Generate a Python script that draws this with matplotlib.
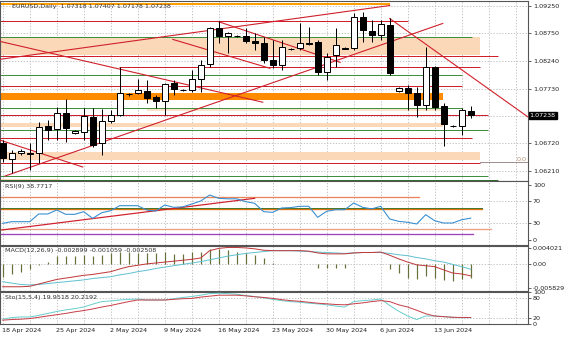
import numpy as np
import matplotlib
matplotlib.use("Agg")
import matplotlib.pyplot as plt
from matplotlib.transforms import blended_transform_factory

plt.rcParams['font.family'] = ['DejaVu Sans']
FS = 4.6
PX = 0.72  # one pixel in points at dpi 100

# ---- price data (daily bars, Sunday bars included) ----
opens = [1.06718, 1.06423, 1.06534, 1.06543, 1.06534, 1.07032, 1.06977, 1.07273, 1.06903, 1.06922,
         1.07199, 1.06718, 1.07125, 1.07236, 1.07624, 1.07642, 1.07679, 1.07568, 1.07494, 1.07827,
         1.07710, 1.07698, 1.07901, 1.08178, 1.08843, 1.08696, 1.08710, 1.08696, 1.08603, 1.08566,
         1.08252, 1.08160, 1.08460, 1.08474, 1.08570, 1.08585, 1.08030, 1.08345, 1.08480, 1.08474,
         1.09047, 1.08788, 1.08714, 1.08899, 1.07679, 1.07735, 1.07642, 1.07420, 1.08123, 1.07402,
         1.07040, 1.07032, 1.07318]
highs = [1.06774, 1.06589, 1.06610, 1.06718, 1.07106, 1.07143, 1.07384, 1.07531, 1.06960, 1.07365,
         1.07365, 1.07347, 1.07328, 1.08123, 1.07650, 1.07901, 1.07883, 1.07605, 1.07827, 1.07883,
         1.07730, 1.08067, 1.08252, 1.08862, 1.08973, 1.08770, 1.08730, 1.08843, 1.08751, 1.08677,
         1.08622, 1.08622, 1.08490, 1.08936, 1.08862, 1.08622, 1.08382, 1.08843, 1.08500, 1.09121,
         1.09139, 1.08991, 1.08991, 1.09028, 1.07760, 1.07790, 1.07753, 1.08492, 1.08141, 1.07457,
         1.07060, 1.07365, 1.07407]
lows = [1.06367, 1.06164, 1.06500, 1.06219, 1.06349, 1.06774, 1.06774, 1.06737, 1.06885, 1.06774,
        1.06644, 1.06497, 1.07088, 1.07218, 1.07600, 1.07624, 1.07457, 1.07365, 1.07236, 1.07605,
        1.07680, 1.07661, 1.07661, 1.08123, 1.08566, 1.08382, 1.08690, 1.08566, 1.08437, 1.08197,
        1.08104, 1.08067, 1.08440, 1.08437, 1.08530, 1.07975, 1.07883, 1.08123, 1.08460, 1.08437,
        1.08585, 1.08585, 1.08622, 1.07975, 1.07660, 1.07328, 1.07199, 1.07328, 1.07328, 1.06663,
        1.07020, 1.06866, 1.07178]
closes = [1.06441, 1.06534, 1.06570, 1.06515, 1.07014, 1.06959, 1.07273, 1.06996, 1.06940, 1.07217,
          1.06681, 1.07125, 1.07236, 1.07642, 1.07620, 1.07698, 1.07550, 1.07494, 1.07809, 1.07716,
          1.07700, 1.07901, 1.08160, 1.08843, 1.08696, 1.08751, 1.08700, 1.08603, 1.08566, 1.08252,
          1.08160, 1.08492, 1.08470, 1.08566, 1.08560, 1.08030, 1.08308, 1.08529, 1.08470, 1.09047,
          1.08807, 1.08714, 1.08917, 1.08012, 1.07735, 1.07642, 1.07420, 1.08123, 1.07383, 1.07069,
          1.07040, 1.07328, 1.07238]

date_pos = [0, 6, 12, 18, 24, 30, 36, 42, 48]
date_labels = ["18 Apr 2024", "25 Apr 2024", "2 May 2024", "9 May 2024", "16 May 2024",
               "23 May 2024", "30 May 2024", "6 Jun 2024", "13 Jun 2024"]

price_ticks = [1.09250, 1.08750, 1.08240, 1.07730, 1.06720, 1.06210]
price_labels = ["1.09250", "1.08750", "1.08240", "1.07730", "1.06720", "1.06210"]
last_price = 1.07238

# horizontal levels drawn on the price chart: price, start bar, end bar, colour
lvl_price = [1.09290, 1.08973, 1.08683, 1.08326, 1.08123, 1.07975, 1.07772, 1.07365,
             1.07245, 1.06959, 1.06811, 1.06349, 1.06108, 1.06030]
lvl_start = [-1, -1, -1, -1, 12.9, -1, -1, -1, -1, -1, -1, -1, -1, -1]
lvl_end = [43.0, 45.0, 52.1, 55.0, 53.0, 51.0, 51.0, 51.0, 53.9, 53.9, 52.1, 53.0, 53.9, 55.0]
lvl_color = ["#ffa000", "#d01f2a", "#3f8f3f", "#d01f2a", "#d01f2a", "#3f8f3f", "#d01f2a",
             "#3f8f3f", "#d01f2a", "#3f8f3f", "#d01f2a", "#d01f2a", "#3f8f3f", "#2f6f2f"]
lvl_width = [2, 1, 1, 1, 1, 1, 1, 1, 1, 1, 1, 1, 1, 1]

# shaded zones: low, high, start bar, end bar, colour
zone_lo = [1.08345, 1.07513, 1.07310, 1.07010, 1.06404, 1.06016]
zone_hi = [1.08677, 1.07642, 1.07360, 1.07084, 1.06552, 1.06060]
zone_start = [-1, -1, 16.0, -1, -1, -1]
zone_end = [53.0, 48.9, 48.9, 48.9, 53.0, 6.4]
zone_color = ["#fbd8b8", "#ff8c00", "#fde3cc", "#fbd8b8", "#fbd8b8", "#fbd8b8"]

# trend lines: (bar, price) -> (bar, price)
trend_x0 = [-0.3, -0.3, 0.26, -0.3, 23.9, 18.9, 43.0]
trend_y0 = [1.08271, 1.08603, 1.06108, 1.06774, 1.08973, 1.08640, 1.09028]
trend_x1 = [43.0, 28.9, 48.9, 8.9, 37.5, 29.7, 58.4]
trend_y1 = [1.09268, 1.07476, 1.08936, 1.06275, 1.08215, 1.08104, 1.07199]

fib_price = 1.06367
fib_start, fib_end = 53.0, 58.4

# ---- indicators ----
rsi = [29.4, 32.4, 32.4, 32.4, 46.4, 46.4, 53.6, 45.8, 45.8, 50.6, 38.5, 48.7, 52.4, 61.5, 61.5,
       61.5, 53.6, 51.8, 62.7, 58.5, 59.4, 64.5, 70.0, 80.9, 74.9, 74.0, 74.0, 68.8, 65.8, 50.6,
       49.4, 57.3, 58.0, 60.4, 60.4, 40.4, 51.3, 54.2, 54.2, 66.4, 58.5, 55.6, 60.4, 37.3, 33.0,
       31.3, 28.2, 45.1, 34.2, 30.0, 30.0, 36.0, 38.77]
rsi_lvl = [77.8, 55.5, 18.5, 9.5]
rsi_lvl_end = [46.3, 53.3, 54.3, 52.3]
rsi_lvl_color = ["#e8845a", "#e07010", "#e8a080", "#a040c0"]
rsi_trend_x = [-0.1, 28.0]
rsi_trend_y = [17.3, 74.9]

macd_hist = [-0.00269, -0.00217, -0.00160, -0.00107, -0.00010, 0.00059, 0.00184, 0.00184, 0.00184,
             0.00206, 0.00184, 0.00206, 0.00243, 0.00278, 0.00278, 0.00256, 0.00243, 0.00256,
             0.00265, 0.00228, 0.00228, 0.00265, 0.00278, 0.00337, 0.00337, 0.00315, 0.00278,
             0.00256, 0.00206, 0.00134, 0.00020, 0.00010, 0.00005, 0.0, 0.0, -0.00085, -0.00085,
             -0.00072, -0.00085, 0.0, 0.00010, 0.0, 0.00010, -0.00107, -0.00195, -0.00291,
             -0.00326, -0.00254, -0.00291, -0.00341, -0.00357, -0.00326, -0.002899]
macd_red = [-0.0049, -0.0049, -0.0049, -0.0048, -0.0043, -0.0038, -0.0033, -0.0030, -0.0027,
            -0.0024, -0.0022, -0.0019, -0.0016, -0.0010, -0.0005, -0.0002, 0.0001, 0.0003, 0.0005,
            0.0007, 0.0009, 0.0011, 0.0014, 0.0030, 0.0035, 0.0037, 0.0037, 0.0036, 0.0034, 0.0031,
            0.0030, 0.0030, 0.0030, 0.0030, 0.0029, 0.0025, 0.0023, 0.0023, 0.0023, 0.0025, 0.0026,
            0.0026, 0.0027, 0.0020, 0.0012, 0.0005, -0.0001, -0.0003, -0.0005, -0.0012, -0.0019,
            -0.0021, -0.002508]
macd_cyan = [-0.0038, -0.0041, -0.0044, -0.0045, -0.0044, -0.0042, -0.0040, -0.0038, -0.0036,
             -0.0034, -0.0031, -0.0029, -0.0027, -0.0023, -0.0020, -0.0016, -0.0013, -0.0009,
             -0.0006, -0.0003, 0.0000, 0.0003, 0.0006, 0.0010, 0.0014, 0.0018, 0.0021, 0.0024,
             0.0026, 0.0028, 0.0030, 0.0030, 0.0030, 0.0029, 0.0028, 0.0027, 0.0026, 0.0025, 0.0024,
             0.0025, 0.0026, 0.0026, 0.0026, 0.0024, 0.0021, 0.0019, 0.0015, 0.0012, 0.0008, 0.0005,
             0.0000, -0.0005, -0.001059]

sto_main = [15, 20, 22, 22, 27, 33, 39, 44, 48, 53, 62, 70, 72, 75, 77, 78, 75, 75, 75, 79, 83, 86,
            90, 95, 96, 95, 93, 89, 86, 82, 77, 73, 70, 68, 65, 63, 60, 56, 53, 70, 73, 75, 78, 58,
            40, 25, 14, 25, 25, 23, 21, 19.5, 19.95]
sto_sig = [12, 14, 15, 17, 21, 25, 29, 33, 38, 42, 47, 53, 58, 64, 70, 75, 75, 75, 75, 77, 79, 80,
           84, 87, 90, 90, 90, 88, 85, 83, 80, 76, 73, 71, 68, 65, 63, 61, 60, 63, 66, 70, 73, 70,
           60, 53, 43, 32, 25, 23, 21, 20.5, 20.22]

# ---- figure ----
W, H = 564, 338
fig = plt.figure(figsize=(W / 100, H / 100), dpi=100)
fig.patch.set_facecolor("white")


def panel(y0, y1):
    ax = fig.add_axes([0, 1 - y1 / H, 528 / W, (y1 - y0) / H])
    ax.set_xlim(-0.3, 58.37)
    ax.set_xticks([])
    ax.yaxis.tick_right()
    ax.tick_params(axis='y', length=2, width=0.5, pad=1.5, labelsize=FS, colors="#222222")
    for s in ax.spines.values():
        s.set_color("#555555")
        s.set_linewidth(0.8)
    for b in range(0, 60, 3):
        ax.axvline(b, color="#b8b8b8", lw=0.6, ls=(0, (1.5, 2)), zorder=0)
    return ax


grid = dict(color="#b8b8b8", lw=0.6, ls=(0, (1.5, 2)), zorder=0)
x = np.arange(len(closes))

# main price panel
ax = panel(0.5, 181)
ax.set_ylim(1.06016, 1.09361)
ax.set_yticks(price_ticks)
ax.set_yticklabels(price_labels)
for p in price_ticks + [1.07228]:
    ax.axhline(p, **grid)

for lo, hi, s, e, c in zip(zone_lo, zone_hi, zone_start, zone_end, zone_color):
    ax.fill_between([s, e], lo, hi, color=c, lw=0, zorder=1)
for p, s, e, c, w in zip(lvl_price, lvl_start, lvl_end, lvl_color, lvl_width):
    ax.plot([s, e], [p, p], color=c, lw=w * PX, zorder=2, solid_capstyle='butt')
for a, b, c, d in zip(trend_x0, trend_y0, trend_x1, trend_y1):
    ax.plot([a, c], [b, d], color="#d01f2a", lw=1.1 * PX, zorder=3)
ax.plot([fib_start, fib_end], [fib_price, fib_price], color="#a09090", lw=PX, zorder=2)
ax.text(fib_end - 0.2, fib_price + 0.0001, "0.0", fontsize=FS, color="#b09070",
        ha='right', va='bottom')

o = np.array(opens)
c = np.array(closes)
ax.vlines(x, lows, highs, color="black", lw=PX, zorder=4)
body_lo = np.minimum(o, c)
body_h = np.maximum(np.abs(c - o), 0.00004)
fill = ["white" if cc >= oo else "black" for oo, cc in zip(o, c)]
ax.bar(x, body_h, bottom=body_lo, width=0.66, color=fill, edgecolor="black",
       linewidth=PX, zorder=5)

ax.text(1.0, 1.09245, "EURUSD,Daily  1.07318 1.07407 1.07178 1.07238", fontsize=FS,
        color="#333333", va='center', ha='left', zorder=6)
ax.text(1.003, last_price, "1.07238", transform=blended_transform_factory(ax.transAxes, ax.transData),
        fontsize=FS, color="white", va='center', ha='left', zorder=7, clip_on=False,
        bbox=dict(boxstyle="square,pad=0.15", fc="black", ec="black"))

# RSI panel
ax_rsi = panel(181, 245)
ax_rsi.set_ylim(-10.0, 106.4)
ax_rsi.set_yticks([100, 70, 30, 0])
ax_rsi.set_yticklabels(["100", "70", "30", "0"])
for v in (70, 30):
    ax_rsi.axhline(v, **grid)
for v, e, col in zip(rsi_lvl, rsi_lvl_end, rsi_lvl_color):
    ax_rsi.plot([-1, e], [v, v], color=col, lw=1.3 * PX, zorder=2)
ax_rsi.plot([-1, 53.3], [57.2, 57.2], color="#4a7a30", lw=PX, zorder=2)
ax_rsi.plot(rsi_trend_x, rsi_trend_y, color="#d01f2a", lw=1.2 * PX, zorder=3)
ax_rsi.plot(x, rsi, color="#3a8fd0", lw=1.1 * PX, zorder=4)
ax_rsi.text(0.3, 96, "RSI(9) 38.7717", fontsize=FS, color="#333333", va='center')

# MACD panel
ax_m = panel(246, 291)
ax_m.set_ylim(-0.005829, 0.004021)
ax_m.set_yticks([0.0036, 0.0, -0.0052])
ax_m.set_yticklabels(["0.004021", "0.00", "-0.005829"])
ax_m.axhline(0.0, **grid)
ax_m.vlines(x, 0, macd_hist, color="#66703a", lw=1.2 * PX, zorder=2)
ax_m.plot(x, macd_cyan, color="#62c2d0", lw=PX, zorder=3)
ax_m.plot(x, macd_red, color="#c0393b", lw=PX, zorder=4)
ax_m.text(0.3, 0.0030, "MACD(12,26,9) -0.002899 -0.001059 -0.002508", fontsize=FS,
          color="#333333", va='center')

# Stochastic panel
ax_s = panel(292, 324)
ax_s.set_ylim(0, 100)
ax_s.set_yticks([100, 80, 20, 0])
ax_s.set_yticklabels(["100", "80", "20", "0"])
for v in (80, 20):
    ax_s.axhline(v, **grid)
ax_s.plot(x, sto_main, color="#6ccfcf", lw=PX, zorder=3)
ax_s.plot(x, sto_sig, color="#c84048", lw=PX, zorder=4)
ax_s.text(0.3, 84, "Sto(15,5,4) 19.9518 20.2192", fontsize=FS, color="#333333", va='center')

tr = blended_transform_factory(ax_s.transData, ax_s.transAxes)
for p, lab in zip(date_pos, date_labels):
    ax_s.text(p - 0.12, -0.2, lab, transform=tr, fontsize=FS, color="#222222",
              ha='left', va='center', clip_on=False)

fig.savefig("out.png", dpi=100)
